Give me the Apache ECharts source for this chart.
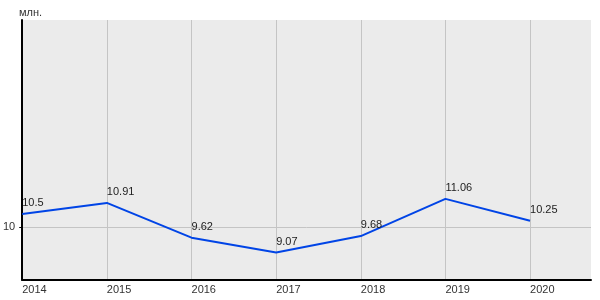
<!DOCTYPE html>
<html><head><meta charset="utf-8">
<script src="https://cdn.jsdelivr.net/npm/echarts@6/dist/echarts.min.js"></script>
<style>html,body{margin:0;padding:0;background:#fff}#c{width:600px;height:300px}</style>
</head><body><div id="c"></div>
<script>
var years = [2014, 2015, 2016, 2017, 2018, 2019, 2020];
var values = [10.5, 10.91, 9.62, 9.07, 9.68, 11.06, 10.25];
var yTicks = [10];
var unit = 'млн.';

var chart = echarts.init(document.getElementById('c'), null, {renderer: 'canvas'});
var font = '"Liberation Sans", Arial, sans-serif';
chart.setOption({
  animation: false,
  backgroundColor: '#ffffff',
  grid: {left: 20, right: 9, top: 20, bottom: 20, show: true, backgroundColor: '#ebebeb', borderWidth: 0},
  title: {text: unit, left: 19, top: 7, padding: 0, textStyle: {fontSize: 11, fontWeight: 'normal', color: '#333', fontFamily: font}},
  xAxis: {
    type: 'value', min: 2014, max: 2020.72,
    axisLine: {show: true, lineStyle: {color: '#000', width: 2}},
    axisTick: {show: false, customValues: years},
    axisLabel: {customValues: years, align: 'left', margin: 4, fontSize: 11, color: '#333', fontFamily: font,
      formatter: function (v) { return String(v); }},
    splitLine: {show: true, lineStyle: {color: '#c4c4c4', width: 1}}
  },
  yAxis: {
    type: 'value', min: 8.05, max: 17.7,
    axisLine: {show: true, lineStyle: {color: '#000', width: 2}},
    axisTick: {show: true, length: 3, customValues: yTicks, lineStyle: {color: '#000'}},
    axisLabel: {customValues: yTicks, margin: 7, fontSize: 11, color: '#333', fontFamily: font},
    splitLine: {show: true, lineStyle: {color: '#c4c4c4', width: 1}}
  },
  series: [{
    type: 'line',
    data: years.map(function (y, i) { return [y, values[i]]; }),
    symbol: 'circle', symbolSize: 1, showSymbol: true,
    itemStyle: {color: 'rgba(0,0,0,0)'},
    lineStyle: {color: '#0044e6', width: 2},
    label: {show: true, position: 'top', align: 'left', distance: 5, fontSize: 11, color: '#222', fontFamily: font,
      formatter: function (p) { return String(p.value[1]); }}
  }]
});
</script></body></html>
